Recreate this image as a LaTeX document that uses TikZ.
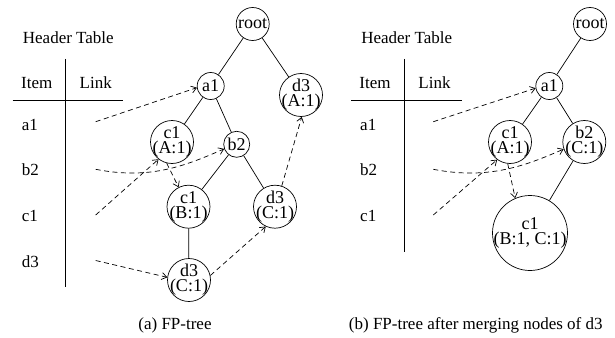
\documentclass[tikz,border=0pt]{standalone}
\usepackage{fontspec}
\setmainfont{Liberation Serif}
\usetikzlibrary{arrows.meta}
\begin{document}
\begin{tikzpicture}[x=1pt,y=-1pt,
  txt/.style={inner sep=0pt,font=\fontsize{17}{17}\selectfont},
  smallnode/.style={draw,circle,line width=0.7pt,inner sep=0pt,font=\fontsize{18}{18}\selectfont},
  twonode/.style={draw,circle,line width=0.7pt,inner sep=-4pt,minimum size=43pt,align=center,font=\fontsize{18}{15}\selectfont},
  treeedge/.style={line width=0.7pt},
  rule/.style={line width=0.8pt},
  link/.style={line width=0.7pt,dash pattern=on 5pt off 3.5pt,-{Straight Barb[length=5pt,width=7pt]}},
]
\useasboundingbox (0,0) rectangle (615,337);

% ---------- (a) FP-tree ----------
\node[txt,anchor=base] (htA) at (68.3,43.3) {Header Table};
\node[txt,anchor=base] (itemA) at (36.7,88.3) {Item};
\node[txt,anchor=base] (linkA) at (95.8,88.3) {Link};
\draw[rule] (65.7,59) -- (65.7,286.7);
\draw[rule] (12.7,100) -- (123,100);
\node[txt,anchor=base west] (ra1A) at (21.7,130) {a1};
\node[txt,anchor=base west] (rb2A) at (21.7,175.5) {b2};
\node[txt,anchor=base west] (rc1A) at (21.7,221.5) {c1};
\node[txt,anchor=base west] (rd3A) at (21.7,267) {d3};

\node[smallnode,minimum size=33pt] (rootA) at (252.7,24) {root};
\node[smallnode,minimum size=27pt] (a1A) at (210.7,86) {a1};
\node[twonode] (d3tA) at (301,95) {d3\\(A:1)};
\node[twonode] (c1aA) at (172,142) {c1\\(A:1)};
\node[smallnode,minimum size=26pt] (b2A) at (236.7,144.3) {b2};
\node[twonode] (c1bA) at (188.5,206.7) {c1\\(B:1)};
\node[twonode] (d3rA) at (275,206.7) {d3\\(C:1)};
\node[twonode] (d3bA) at (189,280) {d3\\(C:1)};

\draw[treeedge] (rootA) -- (a1A);
\draw[treeedge] (rootA) -- (d3tA);
\draw[treeedge] (a1A) -- (c1aA);
\draw[treeedge] (a1A) -- (b2A);
\draw[treeedge] (b2A) -- (c1bA);
\draw[treeedge] (b2A) -- (d3rA);
\draw[treeedge] (c1bA) -- (d3bA);

\coordinate (sa1A) at (95.7,121.7);
\coordinate (sb2A) at (95.7,169.3);
\coordinate (sc1A) at (95.7,215);
\coordinate (sd3A) at (95.7,260.5);
\draw[link] (sa1A) -- (a1A.187);
\draw[link] (sb2A) .. controls (150,180) and (185,166) .. (b2A.200);
\draw[link] (sc1A) -- (c1aA.232);
\draw[link] (c1aA.256) -- (c1bA.117);
\draw[link] (sd3A) -- (d3bA.173);
\draw[link] (d3bA.12) -- (d3rA.245);
\draw[link] (d3rA.72) -- (d3tA.272);

\node[txt,anchor=base] (capA) at (175,329) {(a) FP-tree};

% ---------- (b) after merging the d3 nodes ----------
\node[txt,anchor=base] (htB) at (406.7,43.3) {Header Table};
\node[txt,anchor=base] (itemB) at (375,88.3) {Item};
\node[txt,anchor=base] (linkB) at (434.5,88.3) {Link};
\draw[rule] (404,59) -- (404,251.7);
\draw[rule] (351,100) -- (461.7,100);
\node[txt,anchor=base west] (ra1B) at (360,130) {a1};
\node[txt,anchor=base west] (rb2B) at (360,175.5) {b2};
\node[txt,anchor=base west] (rc1B) at (360,221.5) {c1};

\node[smallnode,minimum size=33pt] (rootB) at (590,24) {root};
\node[smallnode,minimum size=27pt] (a1B) at (549.3,86) {a1};
\node[twonode] (c1aB) at (510,142) {c1\\(A:1)};
\node[twonode] (b2B) at (584.3,142) {b2\\(C:1)};
\node[twonode,inner sep=-3pt,minimum size=75pt] (c1B) at (530,233) {c1\\(B:1, C:1)};

\draw[treeedge] (rootB) -- (a1B);
\draw[treeedge] (a1B) -- (c1aB);
\draw[treeedge] (a1B) -- (b2B);
\draw[treeedge] (b2B) -- (c1B);

\coordinate (sa1B) at (433.3,121.7);
\coordinate (sb2B) at (433.3,169.3);
\coordinate (sc1B) at (433.3,215);
\draw[link] (sa1B) -- (a1B.189);
\draw[link] (sb2B) .. controls (488,180) and (525,166) .. (b2B.199);
\draw[link] (sc1B) -- (c1aB.234);
\draw[link] (c1aB.264) -- (c1B.113);

\node[txt,anchor=base] (capB) at (475.8,329) {(b) FP-tree after merging nodes of d3};
\end{tikzpicture}
\end{document}
